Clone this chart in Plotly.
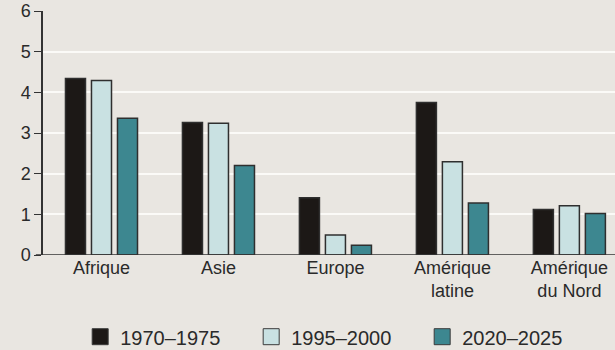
import plotly.graph_objects as go

categories = ["Afrique", "Asie", "Europe", "Amérique<br>latine", "Amérique<br>du Nord"]
series_names = ["1970–1975", "1995–2000", "2020–2025"]
v1970 = [4.34, 3.26, 1.41, 3.75, 1.12]
v1995 = [4.29, 3.24, 0.49, 2.29, 1.21]
v2020 = [3.36, 2.20, 0.24, 1.28, 1.02]
y_ticks = [0, 1, 2, 3, 4, 5, 6]

colors = ["#1c1816", "#c9e1e2", "#3d8790"]
values = [v1970, v1995, v2020]

fig = go.Figure()
for name, vals, col in zip(series_names, values, colors):
    fig.add_trace(go.Bar(
        x=categories, y=vals, name=name, showlegend=False,
        marker=dict(color=col, line=dict(color="#2f2f2f", width=1.5)),
    ))
# legend-only entries with larger square swatches
for name, col in zip(series_names, colors):
    fig.add_trace(go.Scatter(
        x=[None], y=[None], mode="markers", name=name,
        marker=dict(symbol="square", size=16, color=col,
                    line=dict(color="#3a3a3a", width=1)),
    ))

bg = "#e9e6e1"
fig.update_layout(
    width=615, height=350,
    margin=dict(l=43, r=0, t=11, b=95),
    paper_bgcolor=bg, plot_bgcolor=bg,
    barmode="group", bargap=0.333, bargroupgap=0.23,
    font=dict(family="Liberation Sans, Arial, sans-serif", color="#2a2a2a"),
    showlegend=True,
    legend=dict(orientation="h", x=0.065, xanchor="left",
                yref="container", y=0.038, yanchor="middle",
                font=dict(size=20, color="#2a2a2a"),
                entrywidth=126, entrywidthmode="pixels",
                bgcolor="rgba(0,0,0,0)"),
    xaxis=dict(range=[-0.5, 4.39], showline=False,
               ticks="", tickfont=dict(size=18, color="#2a2a2a"), showgrid=False),
    yaxis=dict(range=[0, 6], tickvals=y_ticks, showline=True, linecolor="#333333",
               linewidth=1.5, ticks="outside", ticklen=7, tickcolor="#333333",
               tickfont=dict(size=18, color="#2a2a2a"),
               showgrid=True, gridcolor="#fbfaf7", gridwidth=1.5,
               zeroline=False),
    shapes=[dict(type="line", xref="paper", yref="y", x0=-0.0125, x1=1, y0=0, y1=0,
                 line=dict(color="#333333", width=1.5))],
)

fig.write_html("out.html")
